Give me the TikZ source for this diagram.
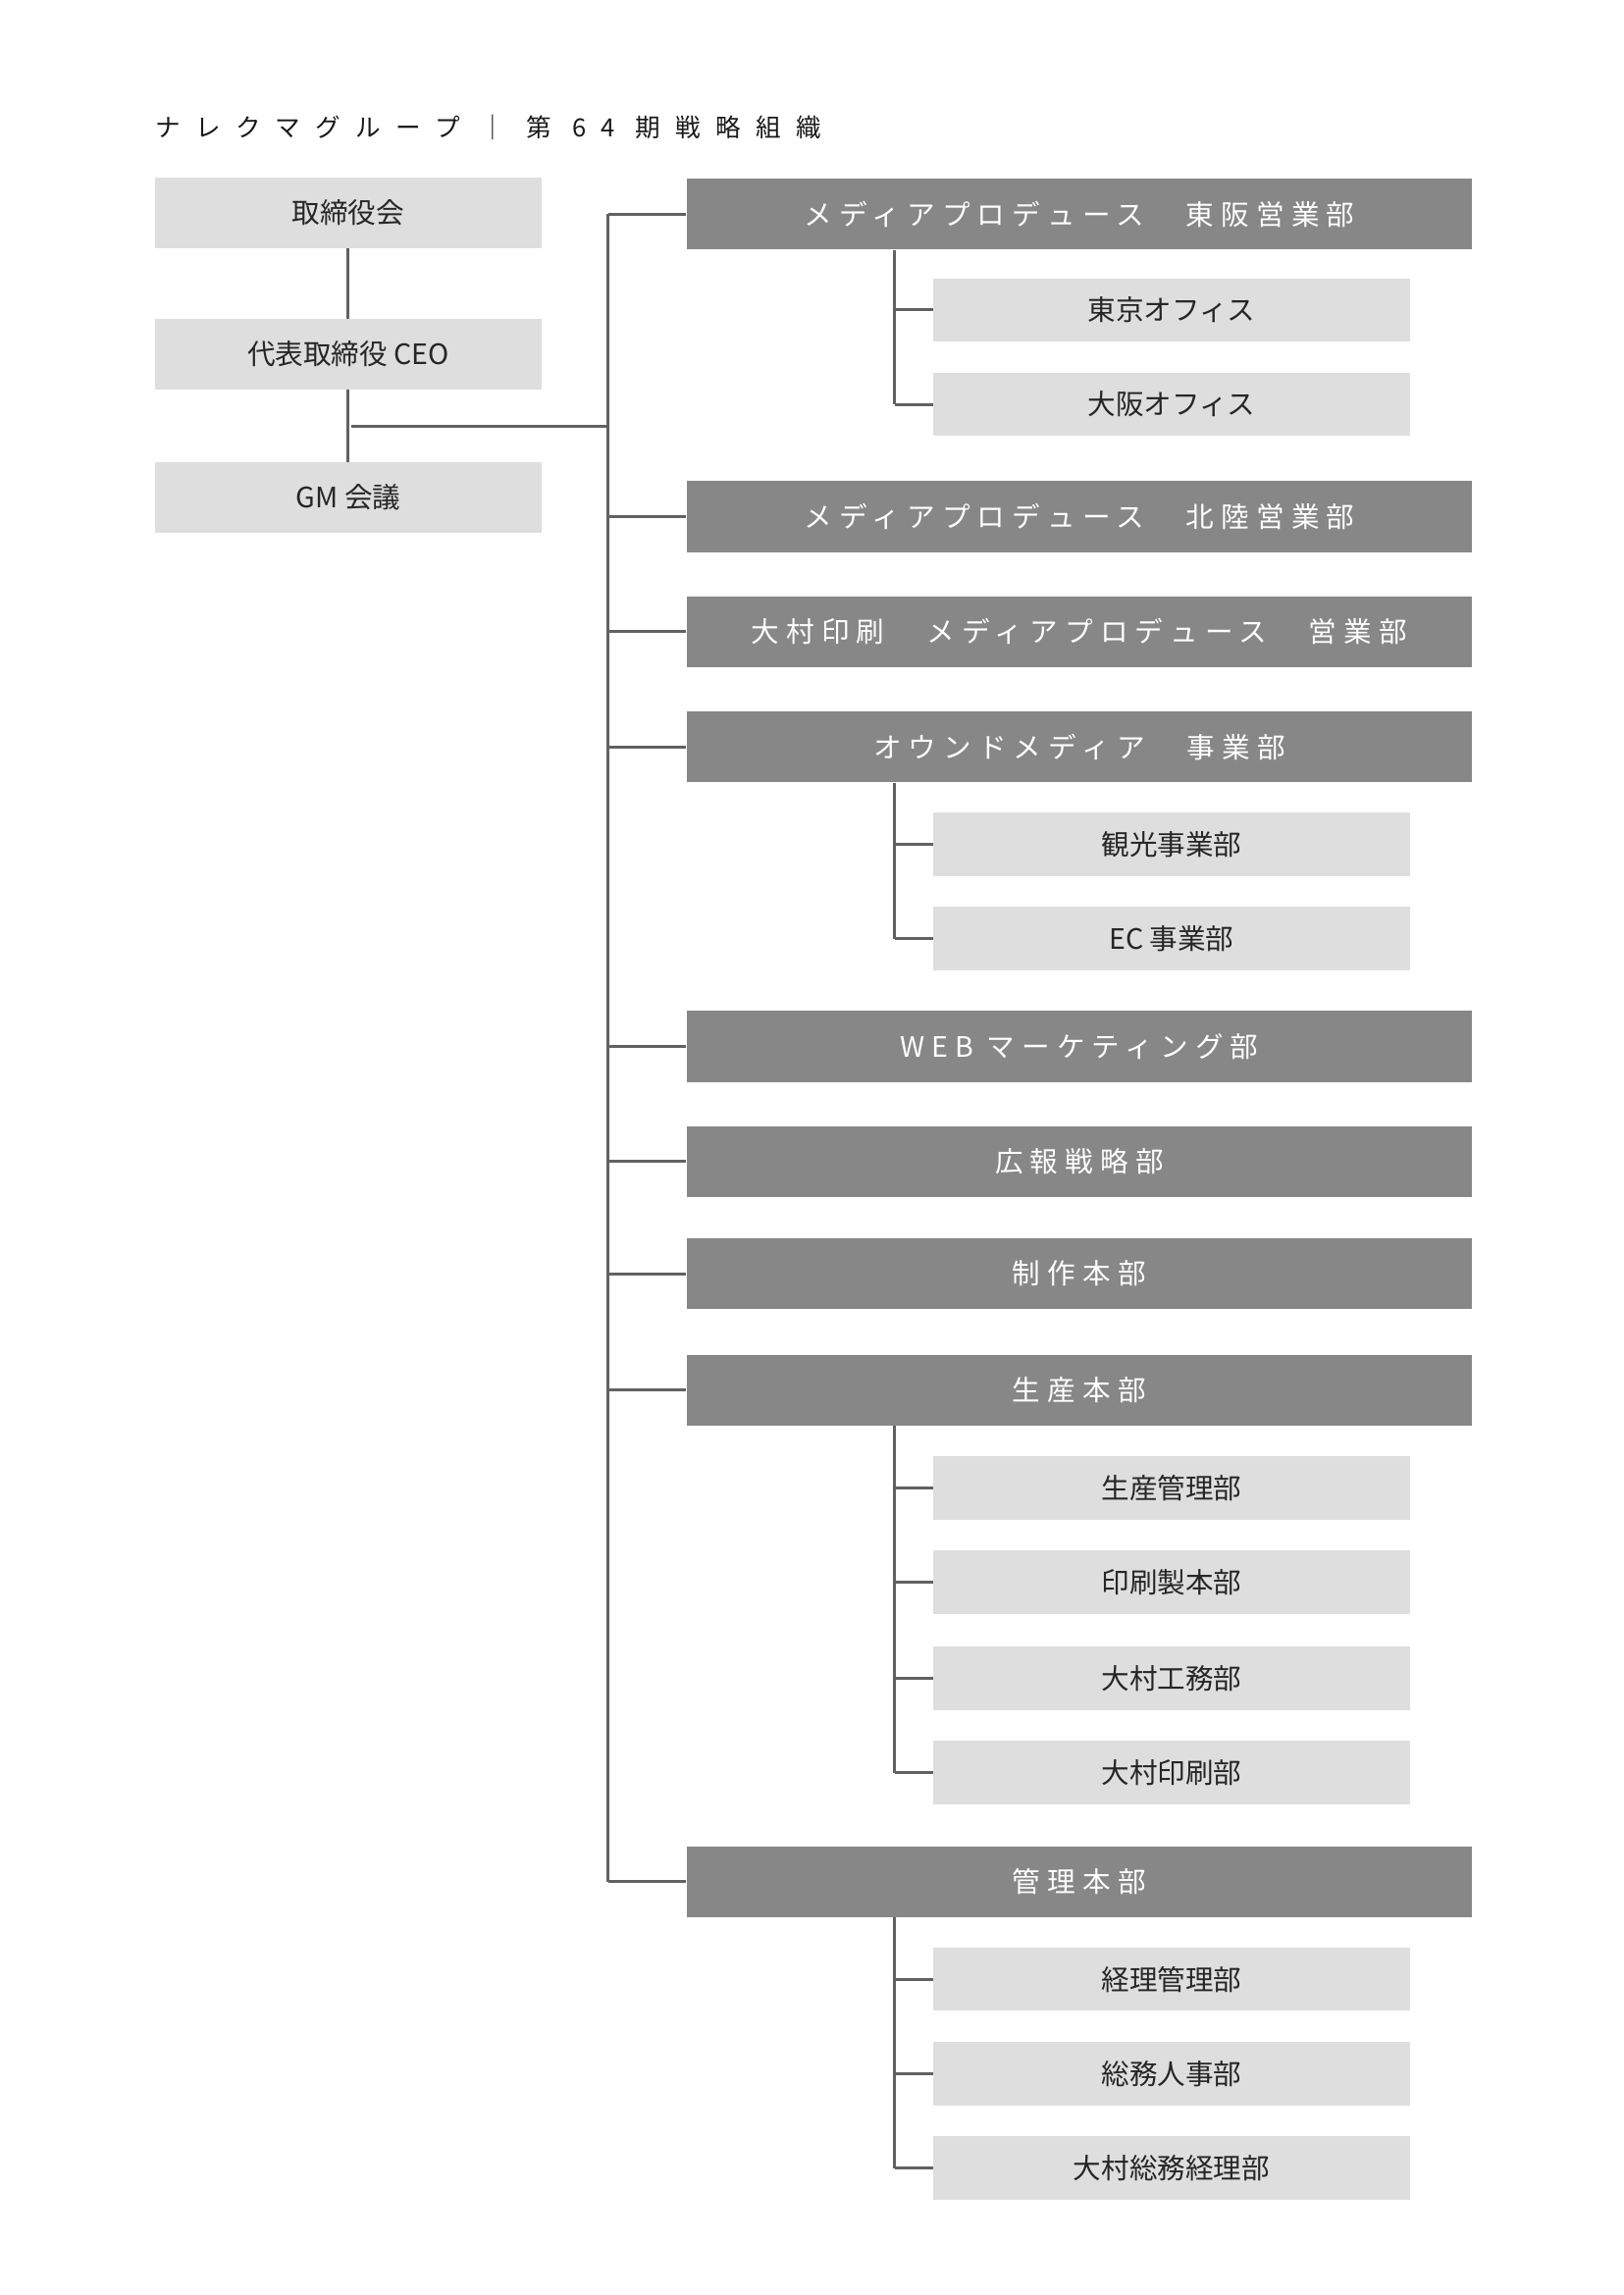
\documentclass[tikz,border=0pt]{standalone}
\usepackage{fontspec}
\setmainfont{Noto Sans CJK JP}
\newfontfamily\jpwide[LetterSpace=25]{Noto Sans CJK JP}
\newfontfamily\jptitle[LetterSpace=60]{Noto Sans CJK JP}
\begin{document}
\begin{tikzpicture}[x=1pt,y=-1pt,
  dark/.style={fill=black!47,text=white,minimum width=532pt,minimum height=48pt,inner sep=0pt,font=\jpwide\fontsize{19}{19}\selectfont,anchor=west},
  light/.style={fill=black!13,text=black!85,minimum width=323pt,minimum height=43pt,inner sep=0pt,font=\fontsize{19}{19}\selectfont,anchor=west},
  lbox/.style={fill=black!13,text=black!85,minimum width=262pt,minimum height=48pt,inner sep=0pt,font=\fontsize{19}{19}\selectfont},
  ln/.style={draw=black!62,line width=2pt}]
\useasboundingbox (0,0) rectangle (1100,1555);
\node[anchor=base west,font=\jptitle\fontsize{17}{17}\selectfont,text=black!90,inner sep=0pt] (title) at (105,93) {ナレクマグループ ｜ 第 64 期戦略組織};
\node[lbox] (b1) at (236,144) {取締役会};
\node[lbox] (b2) at (236,240) {代表取締役 CEO};
\node[lbox] (b3) at (236,337) {GM 会議};
\draw[ln] (b1.south) -- (b2.north);
\draw[ln] (b2.south) -- (b3.north);
\coordinate (j) at (238,289);
\coordinate (t0) at (412,145);
\coordinate (t1) at (412,1275);
\draw[ln] (j) -- (412,289);
\draw[ln] (t0) -- (t1);
\foreach \n/\yy/\t in {d1/145/{メディアプロデュース　東阪営業部},d2/350/{メディアプロデュース　北陸営業部},d3/428/{大村印刷　メディアプロデュース　営業部},d4/506/{オウンドメディア　事業部},d5/709/{WEB マーケティング部},d6/787/{広報戦略部},d7/863/{制作本部},d8/942/{生産本部},d9/1275/{管理本部}}{
  \node[dark] (\n) at (465,\yy) {\t};
  \coordinate (c\n) at (412,\yy);
  \draw[ln] (c\n) -- (\n.west);
}
\foreach \n/\yy/\t/\p in {l1/210/{東京オフィス}/d1,l2/274/{大阪オフィス}/d1,l3/572/{観光事業部}/d4,l4/636/{EC 事業部}/d4,l5/1008/{生産管理部}/d8,l6/1072/{印刷製本部}/d8,l7/1137/{大村工務部}/d8,l8/1201/{大村印刷部}/d8,l9/1341/{経理管理部}/d9,l10/1405/{総務人事部}/d9,l11/1469/{大村総務経理部}/d9}{
  \node[light] (\n) at (632,\yy) {\t};
  \coordinate (s\n) at (606,\yy);
  \draw[ln] (s\n) -- (\n.west);
}
\draw[ln] (d1.south -| 606,0) -- (sl2);
\draw[ln] (d4.south -| 606,0) -- (sl4);
\draw[ln] (d8.south -| 606,0) -- (sl8);
\draw[ln] (d9.south -| 606,0) -- (sl11);
\end{tikzpicture}
\end{document}
